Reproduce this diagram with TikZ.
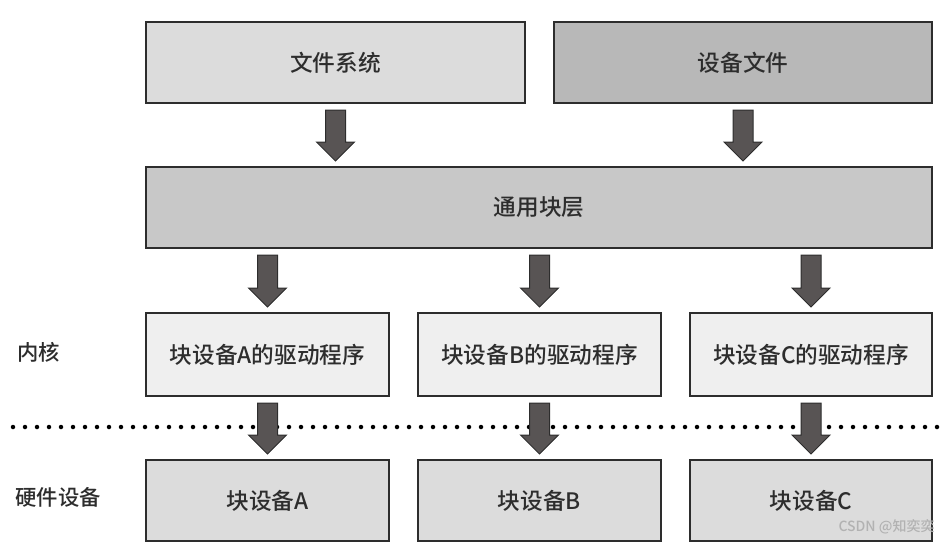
\documentclass[tikz,border=0pt]{standalone}
\usepackage{fontspec}
\setmainfont{Noto Sans CJK SC}[UprightFont=* Medium]
\usetikzlibrary{calc}

\newlength\px
\setlength\px{0.75pt}

\definecolor{boxline}{RGB}{45,45,45}
\definecolor{fsfill}{RGB}{220,220,220}
\definecolor{devfill}{RGB}{184,184,184}
\definecolor{blkfill}{RGB}{200,200,200}
\definecolor{drvfill}{RGB}{239,239,239}
\definecolor{hwfill}{RGB}{220,220,220}
\definecolor{arrowfill}{RGB}{88,84,84}
\definecolor{txt}{RGB}{45,45,45}

\tikzset{every picture/.style={line width=0.75pt}}
\tikzset{
  layerbox/.style={draw=boxline, line width=2.2\px, inner sep=0pt, outer sep=0pt,
    minimum height=81\px, text=txt, font=\fontsize{17}{20}\selectfont},
  sidelabel/.style={anchor=west, inner sep=0pt, text=txt, font=\fontsize{16}{20}\selectfont},
  barrow/.style={draw=boxline, fill=arrowfill, line width=1\px, line join=miter}
}

% block arrow: #1 start (top), #2 end (tip)
\newcommand{\blockarrow}[2]{%
  \draw[barrow] ($#1+(-10,7)$) -- ($#1+(10,7)$) -- ($#2+(10,-25)$) -- ($#2+(19,-25)$)
    -- ($#2+(0,-6)$) -- ($#2+(-19,-25)$) -- ($#2+(-10,-25)$) -- cycle;}

\begin{document}
\begin{tikzpicture}[x=0.75pt,y=0.75pt,yscale=-1,xscale=1]
\useasboundingbox (0,0) rectangle (949,546);

%kernel / hardware border
\draw [line width=4.5\px, line cap=round, dash pattern=on 0pt off 12\px] (13,427) -- (940,427) ;

%top row
\node [layerbox, fill=fsfill, minimum width=379\px] (fs) at (335.5,62.5) {文件系统};
\node [layerbox, fill=devfill, minimum width=378\px] (devf) at (743,62.5) {设备文件};
%generic block layer
\node [layerbox, fill=blkfill, minimum width=786\px] (blk) at (539,207.5) {通用块层};
%drivers
\node [layerbox, fill=drvfill, minimum width=243\px, minimum height=83\px] (drvA) at (267.5,354.5) {块设备A的驱动程序};
\node [layerbox, fill=drvfill, minimum width=243\px, minimum height=83\px] (drvB) at (539.5,354.5) {块设备B的驱动程序};
\node [layerbox, fill=drvfill, minimum width=242\px, minimum height=83\px] (drvC) at (811,354.5) {块设备C的驱动程序};
%hardware
\node [layerbox, fill=hwfill, minimum width=243\px] (hwA) at (267.5,500.5) {块设备A};
\node [layerbox, fill=hwfill, minimum width=243\px] (hwB) at (539.5,500.5) {块设备B};
\node [layerbox, fill=hwfill, minimum width=242\px] (hwC) at (811,500.5) {块设备C};

% Text Node
\node [sidelabel] (kern) at (17,352) {内核};
% Text Node
\node [sidelabel] (hwdev) at (15,497) {硬件设备};
% Text Node
\node [anchor=east, inner sep=0pt, text=black!30, font=\fontsize{10.5}{12}\selectfont] (mark) at (935,527) {CSDN @知奕奕};

%arrows
\blockarrow{(fs.south)}{(fs.south |- blk.north)}
\blockarrow{(devf.south)}{(devf.south |- blk.north)}
\blockarrow{(blk.south -| drvA.north)}{(drvA.north)}
\blockarrow{(blk.south -| drvB.north)}{(drvB.north)}
\blockarrow{(blk.south -| drvC.north)}{(drvC.north)}
\blockarrow{(drvA.south)}{(hwA.north)}
\blockarrow{(drvB.south)}{(hwB.north)}
\blockarrow{(drvC.south)}{(hwC.north)}

\end{tikzpicture}
\end{document}
